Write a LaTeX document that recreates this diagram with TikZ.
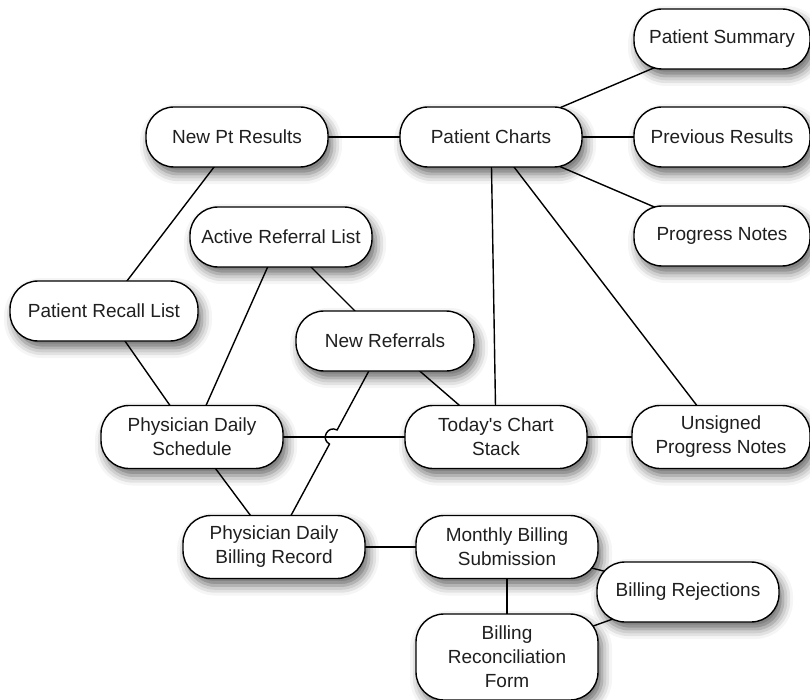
\documentclass[tikz,border=0pt]{standalone}
\usepackage{fontspec}
\setmainfont{Liberation Sans}
\usetikzlibrary{calc,shadows.blur}
\pgfdeclarelayer{background}
\pgfsetlayers{background,main}
\begin{document}
\begin{tikzpicture}[x=1pt,y=-1pt,
  pill/.style={draw=black, line width=1.4pt, fill=white, rounded corners=28pt,
    minimum width=182pt, minimum height=60pt, align=center, inner sep=2pt,
    text=black!88,
    font=\fontsize{19}{24}\selectfont,
    blur shadow={shadow xshift=4pt, shadow yshift=-7pt, shadow blur radius=10pt, shadow opacity=60}},
  tall/.style={minimum height=63pt},
  edge/.style={line width=1.4pt, draw=black}]
\useasboundingbox (0,0) rectangle (810,700);
% nodes
\node[pill, minimum width=176pt] (ps)  at (722,39)  {Patient Summary};
\node[pill] (npr) at (237,137) {New Pt Results};
\node[pill] (pc)  at (491,137) {Patient Charts};
\node[pill, minimum width=176pt] (prv) at (722,137) {Previous Results};
\node[pill] (arl) at (281,237) {Active Referral List};
\node[pill, minimum width=176pt] (pn)  at (722,236) {Progress Notes};
\node[pill, minimum width=188pt] (prl) at (104,311) {Patient Recall List};
\node[pill, minimum width=178pt] (nr)  at (385,341) {New Referrals};
\node[pill, tall] (pds) at (192,437) {Physician Daily\\Schedule};
\node[pill, tall] (tcs) at (496,437) {Today\textquotesingle s Chart\\Stack};
\node[pill, tall, minimum width=178pt] (upn) at (721,437) {Unsigned\\Progress Notes};
\node[pill, tall] (pbr) at (274,547) {Physician Daily\\Billing Record};
\node[pill, tall] (mbs) at (507,547) {Monthly Billing\\Submission};
\node[pill] (br)  at (688,592) {Billing Rejections};
\node[pill, minimum height=86pt] (brf) at (507,657) {Billing\\Reconciliation\\Form};
% edges (centre to centre, behind the nodes)
\begin{pgfonlayer}{background}
\draw[edge] (npr.center) -- (pc.center);
\draw[edge] (pc.center) -- (ps.center);
\draw[edge] (pc.center) -- (prv.center);
\draw[edge] (pc.center) -- (pn.center);
\draw[edge] (pc.center) -- (tcs.center);
\draw[edge] (pc.center) -- (upn.center);
\draw[edge] (npr.center) -- (prl.center);
\draw[edge] (arl.center) -- (nr.center);
\draw[edge] (arl.center) -- (pds.center);
\draw[edge] (prl.center) -- (pds.center);
\draw[edge] (nr.center) -- (tcs.center);
\draw[edge] (pds.center) -- (tcs.center);
\draw[edge] (tcs.center) -- (upn.center);
\draw[edge] (pds.center) -- (pbr.center);
\draw[edge] (pbr.center) -- (mbs.center);
\draw[edge] (mbs.center) -- (br.center);
\draw[edge] (mbs.center) -- (brf.center);
\draw[edge] (br.center) -- (brf.center);
% edge with a hop over the schedule line
\coordinate (X) at (intersection of nr--pbr and pds--tcs);
\coordinate (P1) at ($(X)!8pt!(nr)$);
\coordinate (P2) at ($(X)!8pt!(pbr)$);
\draw[edge] (nr.center) -- (P1) to[bend right=90, looseness=1.7] (P2) -- (pbr.center);
\end{pgfonlayer}
\end{tikzpicture}
\end{document}
